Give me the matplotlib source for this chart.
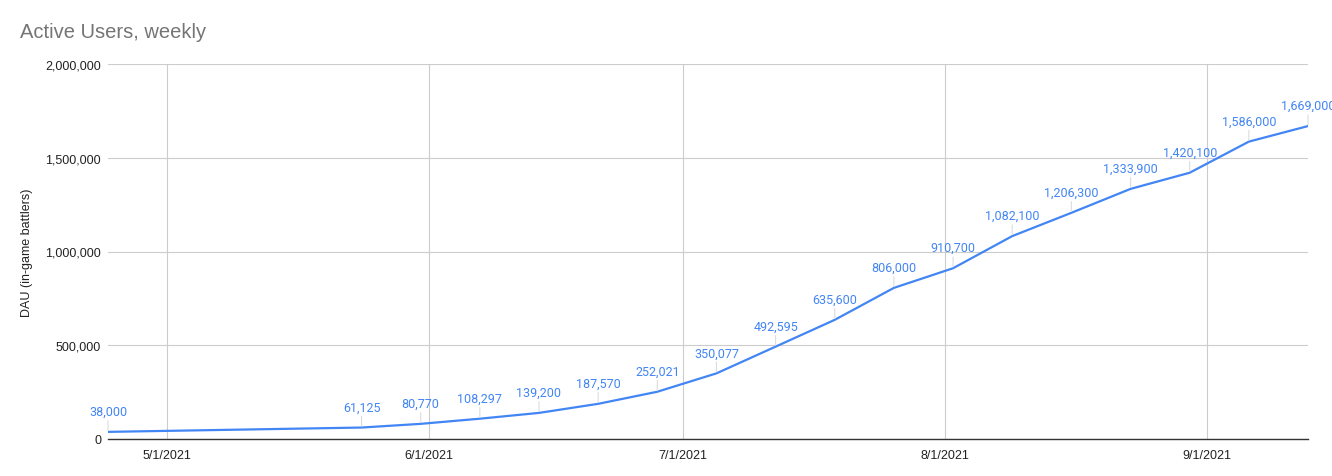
import datetime as dt

import matplotlib
matplotlib.use("Agg")
import matplotlib.dates as mdates
import matplotlib.pyplot as plt
from matplotlib.ticker import FuncFormatter, MultipleLocator

# weekly active users (Google Sheets style chart)
dates = ["2021-04-24", "2021-05-24", "2021-05-31", "2021-06-07", "2021-06-14",
         "2021-06-21", "2021-06-28", "2021-07-05", "2021-07-12", "2021-07-19",
         "2021-07-26", "2021-08-02", "2021-08-09", "2021-08-16", "2021-08-23",
         "2021-08-30", "2021-09-06", "2021-09-13"]
users = [38000, 61125, 80770, 108297, 139200, 187570, 252021, 350077, 492595,
         635600, 806000, 910700, 1082100, 1206300, 1333900, 1420100, 1586000,
         1669000]
month_ticks = ["2021-05-01", "2021-06-01", "2021-07-01", "2021-08-01", "2021-09-01"]

BLUE = "#4285F4"
plt.rcParams["font.family"] = ["Liberation Sans", "DejaVu Sans"]

x = [dt.datetime.fromisoformat(d) for d in dates]

fig = plt.figure(figsize=(13.32, 4.77), dpi=100)
ax = fig.add_axes([108 / 1332, 37 / 477, 1200 / 1332, 375 / 477])

ax.plot(x, users, color=BLUE, lw=1.6, zorder=3)
for xi, v in zip(x, users):
    ax.annotate(f"{v:,}", xy=(xi, v), xytext=(0, 14), textcoords="offset pixels",
                ha="center", va="bottom", fontsize=9, color=BLUE,
                family=["Roboto", "DejaVu Sans"],
                arrowprops=dict(arrowstyle="-", color="#dcdcdc", lw=0.8,
                                shrinkA=0, shrinkB=1), annotation_clip=False)

ax.set_xlim(x[0], x[-1])
ax.set_ylim(0, 2000000)
ax.yaxis.set_major_locator(MultipleLocator(500000))
ax.yaxis.set_major_formatter(FuncFormatter(lambda v, p: f"{int(v):,}"))
ax.set_xticks([mdates.date2num(dt.datetime.fromisoformat(d)) for d in month_ticks])
ax.xaxis.set_major_formatter(FuncFormatter(
    lambda v, p: "{0.month}/{0.day}/{0.year}".format(mdates.num2date(v))))

ax.grid(True, color="#cccccc", lw=0.8)
ax.set_axisbelow(True)
for s in ("left", "right", "top"):
    ax.spines[s].set_visible(False)
ax.spines["bottom"].set_color("#333333")
ax.spines["bottom"].set_linewidth(1.0)
ax.tick_params(length=0, labelsize=9, labelcolor="#222222")
ax.tick_params(axis="x", pad=7)
ax.tick_params(axis="y", pad=5)
ax.set_ylabel("DAU (in-game battlers)", fontsize=9, color="#222222", labelpad=9)

fig.text(20 / 1332, 1 - 32 / 477, "Active Users, weekly", fontsize=14.5,
         color="#757575", va="center", ha="left")

fig.savefig("out.png", dpi=100)
